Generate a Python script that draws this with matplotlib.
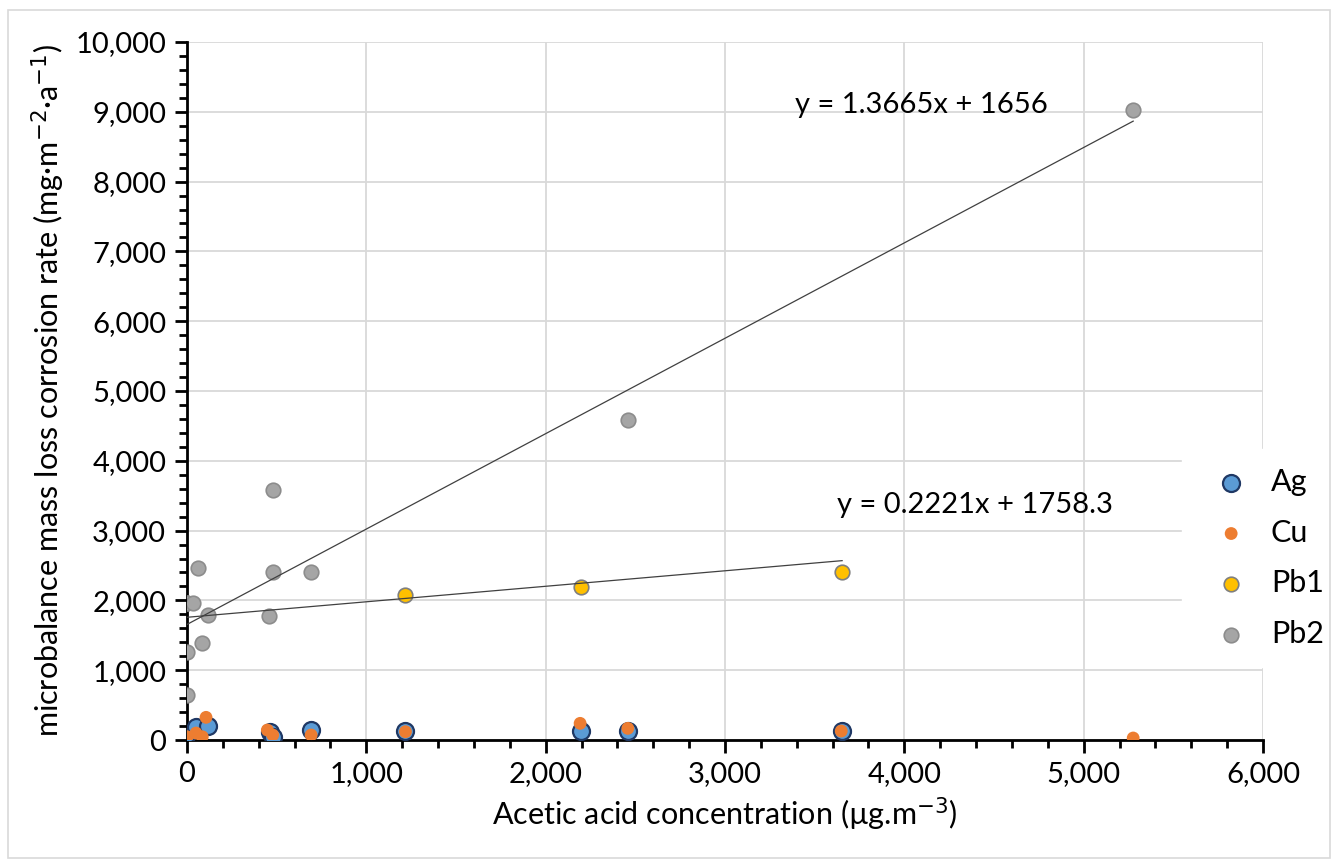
import matplotlib.pyplot as plt
from matplotlib.ticker import MultipleLocator, FuncFormatter
from matplotlib.patches import Rectangle

plt.rcParams['font.family'] = ['Lato', 'DejaVu Sans']

# Data
ag_x = [0, 50, 115, 460, 480, 690, 1218, 2197, 2460, 3653]
ag_y = [90, 180, 200, 120, 50, 140, 130, 130, 125, 125]

cu_x = [0, 50, 85, 106, 448, 478, 692, 1218, 2192, 2458, 3648, 5276]
cu_y = [47, 100, 47, 325, 143, 72, 72, 119, 239, 167, 129, 29]

pb1_x = [1218, 2197, 3653]
pb1_y = [2082, 2192, 2407]

pb2_x = [0, 0, 0, 0, 32, 60, 82, 115, 457, 480, 481, 690, 2460, 5276]
pb2_y = [640, 1256, 1967, 1967, 1967, 2468, 1394, 1790, 1772, 3582, 2411, 2411, 4585, 9026]

# trendline coefficients (from the chart)
pb1_fit = (0.2221, 1758.3)
pb2_fit = (1.3665, 1656)

W, H = 1333, 860
fig = plt.figure(figsize=(W / 100, H / 100), dpi=100)
ax = fig.add_axes([0.1403, 0.1395, 0.8072, 0.8117])

ax.scatter(ag_x, ag_y, s=150, color='#5B9BD5', edgecolor='#1F3864', linewidth=1.6, label='Ag', zorder=3)
ax.scatter(cu_x, cu_y, s=85, color='#ED7D31', edgecolor='none', label='Cu', zorder=4)
ax.scatter(pb1_x, pb1_y, s=110, color='#FFC000', edgecolor='#7F7F7F', linewidth=1.2, label='Pb1', zorder=3)
ax.scatter(pb2_x, pb2_y, s=110, color='#A5A5A5', edgecolor='#8C8C8C', linewidth=1.2, label='Pb2', zorder=3)

for (m, b), xs in ((pb1_fit, pb1_x), (pb2_fit, pb2_x)):
    x0, x1 = 0, max(xs)
    ax.plot([x0, x1], [m * x0 + b, m * x1 + b], color='#404040', linewidth=0.9, zorder=5)

# trendline equations, placed in figure pixels
fig.text(921 / W, 1 - 105 / H, 'y = 1.3665x + 1656', fontsize=21, ha='center', va='center')
fig.text(975 / W, 1 - 505 / H, 'y = 0.2221x + 1758.3', fontsize=21, ha='center', va='center')

ax.set_xlim(0, 6000)
ax.set_ylim(0, 10000)
ax.xaxis.set_major_locator(MultipleLocator(1000))
ax.xaxis.set_minor_locator(MultipleLocator(200))
ax.yaxis.set_major_locator(MultipleLocator(1000))
ax.yaxis.set_minor_locator(MultipleLocator(200))
fmt = FuncFormatter(lambda v, p: f'{int(v):,}')
ax.xaxis.set_major_formatter(fmt)
ax.yaxis.set_major_formatter(fmt)

ax.grid(True, which='major', color='#D9D9D9', linewidth=1.3, zorder=0)
ax.set_axisbelow(True)
for s in ('top', 'right'):
    ax.spines[s].set_visible(False)
for s in ('left', 'bottom'):
    ax.spines[s].set_linewidth(2)
ax.tick_params(which='major', direction='out', length=9, width=2, labelsize=21, pad=6)
ax.tick_params(which='minor', direction='out', length=6, width=2)

ax.set_xlabel('Acetic acid concentration (µg.m$^{-3}$)', fontsize=22, labelpad=6)
ax.set_ylabel('microbalance mass loss corrosion rate (mg·m$^{-2}$·a$^{-1}$)', fontsize=22, labelpad=6)

leg = ax.legend(loc='center left', bbox_to_anchor=(1167 / W, 1 - 558 / H), bbox_transform=fig.transFigure,
                frameon=True, fontsize=22, handletextpad=0.3, labelspacing=0.75, borderpad=0.6,
                markerscale=1.0, fancybox=False)
leg.get_frame().set_edgecolor('white')
leg.get_frame().set_facecolor('white')
leg.get_frame().set_alpha(1)
leg.set_zorder(10)

fig.patches.append(Rectangle((8 / W, 2 / H), 1322 / W, 848 / H, transform=fig.transFigure,
                             fill=False, edgecolor='#D9D9D9', linewidth=1.2))

fig.savefig('out.png', dpi=100)
